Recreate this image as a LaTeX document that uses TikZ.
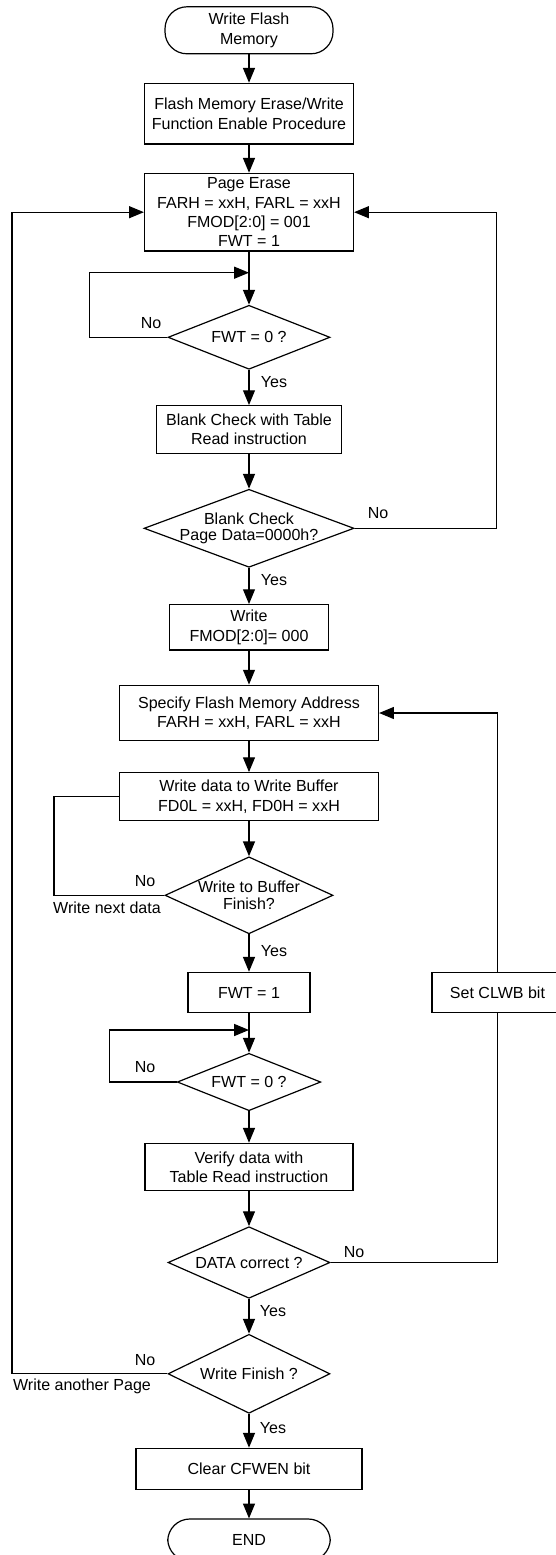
\documentclass[tikz,border=0pt]{standalone}
\usepackage{fontspec}
\setmainfont{Liberation Sans}
\usetikzlibrary{shapes}
\usetikzlibrary{arrows.meta}

\tikzset{
  proc/.style 2 args={draw, rectangle, align=center, inner sep=0pt,
    minimum width=#1*0.025cm, minimum height=#2*0.025cm},
  term/.style 2 args={draw, rectangle, rounded corners=0.55cm, align=center, inner sep=0pt,
    minimum width=#1*0.025cm, minimum height=#2*0.025cm},
  decide/.style 2 args={draw, diamond, inner sep=0pt,
    minimum width=#1*0.025cm, minimum height=#2*0.025cm},
  dtext/.style={align=center, inner sep=0pt, font=\fontsize{11.4pt}{11.8pt}\selectfont},
  tag/.style={inner sep=0pt},
  arr/.style={-{Triangle[length=10.5pt,width=8.5pt]}}
}

\begin{document}
\begin{tikzpicture}[x=0.025cm, y=-0.025cm, line width=0.85pt,
    font=\fontsize{11.4pt}{13.7pt}\selectfont]
  \path[use as bounding box] (0,0) rectangle (556,1555);
  \clip (0,0) rectangle (556,1555);

  % main column
  \node[term={168}{47}] (start) at (249,30.3) {Write Flash\\Memory};
  \node[proc={209}{60.7}] (enable) at (249,113.7) {Flash Memory Erase/Write\\Function Enable Procedure};
  \node[proc={209}{77.7}] (erase) at (249,212.2) {Page Erase\\FARH = xxH, FARL = xxH\\FMOD[2:0] = 001\\FWT = 1};
  \node[decide={162}{64}, label={[dtext]center:FWT = 0 ?}] (fwta) at (249,337.3) {};
  \node[proc={185}{47.7}] (blank) at (249,429.5) {Blank Check with Table\\Read instruction};
  \node[decide={210}{78}, label={[dtext]center:Blank Check\\Page Data=0000h?}] (bcheck) at (249,528.3) {};
  \node[proc={159}{45.3}] (wmode) at (249,627.3) {Write\\FMOD[2:0]= 000};
  \node[proc={259}{55.7}] (addr) at (249,713) {Specify Flash Memory Address\\FARH = xxH, FARL = xxH};
  \node[proc={259}{48}] (wbuf) at (249,796.7) {Write data to Write Buffer\\FD0L = xxH, FD0H = xxH};
  \node[decide={168}{77}, label={[dtext]center:Write to Buffer\\Finish?}] (bufdone) at (249,895.3) {};
  \node[proc={122}{40.3}] (fwtset) at (249,992.5) {FWT = 1};
  \node[decide={143.5}{57.4}, label={[dtext]center:FWT = 0 ?}] (fwtb) at (249,1082) {};
  \node[proc={208}{47.3}] (verify) at (249,1167) {Verify data with\\Table Read instruction};
  \node[decide={162}{71.6}, label={[dtext]center:DATA correct ?}] (datok) at (249,1262.5) {};
  \node[decide={162}{79}, label={[dtext]center:Write Finish ?}] (wdone) at (249,1373.8) {};
  \node[proc={226}{41}] (clear) at (249,1468.8) {Clear CFWEN bit};
  \node[term={162.5}{42}] (stop) at (249,1540) {END};

  % side box
  \node[proc={131}{40.3}] (clwb) at (497.5,992.5) {Set CLWB bit};

  \coordinate (j1) at (249,272.7);
  \coordinate (j2) at (249,1030);

  % connectors
  \draw[arr] (start) -- (enable);
  \draw[arr] (enable) -- (erase);
  \draw[arr] (erase) -- (fwta);
  \draw[arr] (fwta.west) -- ++(-78,0) |- (j1);
  \draw[arr] (fwta) -- (blank);
  \draw[arr] (blank) -- (bcheck);
  \draw[arr] (bcheck.east) -- ++(142,0) |- (erase.east);
  \draw[arr] (bcheck) -- (wmode);
  \draw[arr] (wmode) -- (addr);
  \draw[arr] (addr) -- (wbuf);
  \draw[arr] (wbuf) -- (bufdone);
  \draw (bufdone.west) -- ++(-110.5,0) |- (wbuf.west);
  \draw[arr] (bufdone) -- (fwtset);
  \draw[arr] (fwtset) -- (fwtb);
  \draw[arr] (fwtb.west) -- ++(-67.5,0) |- (j2);
  \draw[arr] (fwtb) -- (verify);
  \draw[arr] (verify) -- (datok);
  \draw (datok.east) -| (clwb.south);
  \draw[arr] (clwb.north) |- (addr.east);
  \draw[arr] (datok) -- (wdone);
  \draw[arr] (wdone.west) -- ++(-155.5,0) |- (erase.west);
  \draw[arr] (wdone) -- (clear);
  \draw[arr] (clear) -- (stop);

  % branch labels
  \node[tag] (no1) at (151,323.3) {No};
  \node[tag] (yes1) at (274,382) {Yes};
  \node[tag] (no2) at (378,512.7) {No};
  \node[tag] (yes2) at (274,580) {Yes};
  \node[tag] (no3) at (145,880.7) {No};
  \node[tag] (nxt) at (107,907.3) {Write next data};
  \node[tag] (yes3) at (274,951) {Yes};
  \node[tag] (no4) at (145,1067.3) {No};
  \node[tag] (no5) at (354,1251.7) {No};
  \node[tag] (yes5) at (273,1311) {Yes};
  \node[tag] (no6) at (145,1360) {No};
  \node[tag] (page) at (82,1386.7) {Write another Page};
  \node[tag] (yes6) at (273,1427.7) {Yes};
\end{tikzpicture}
\end{document}
